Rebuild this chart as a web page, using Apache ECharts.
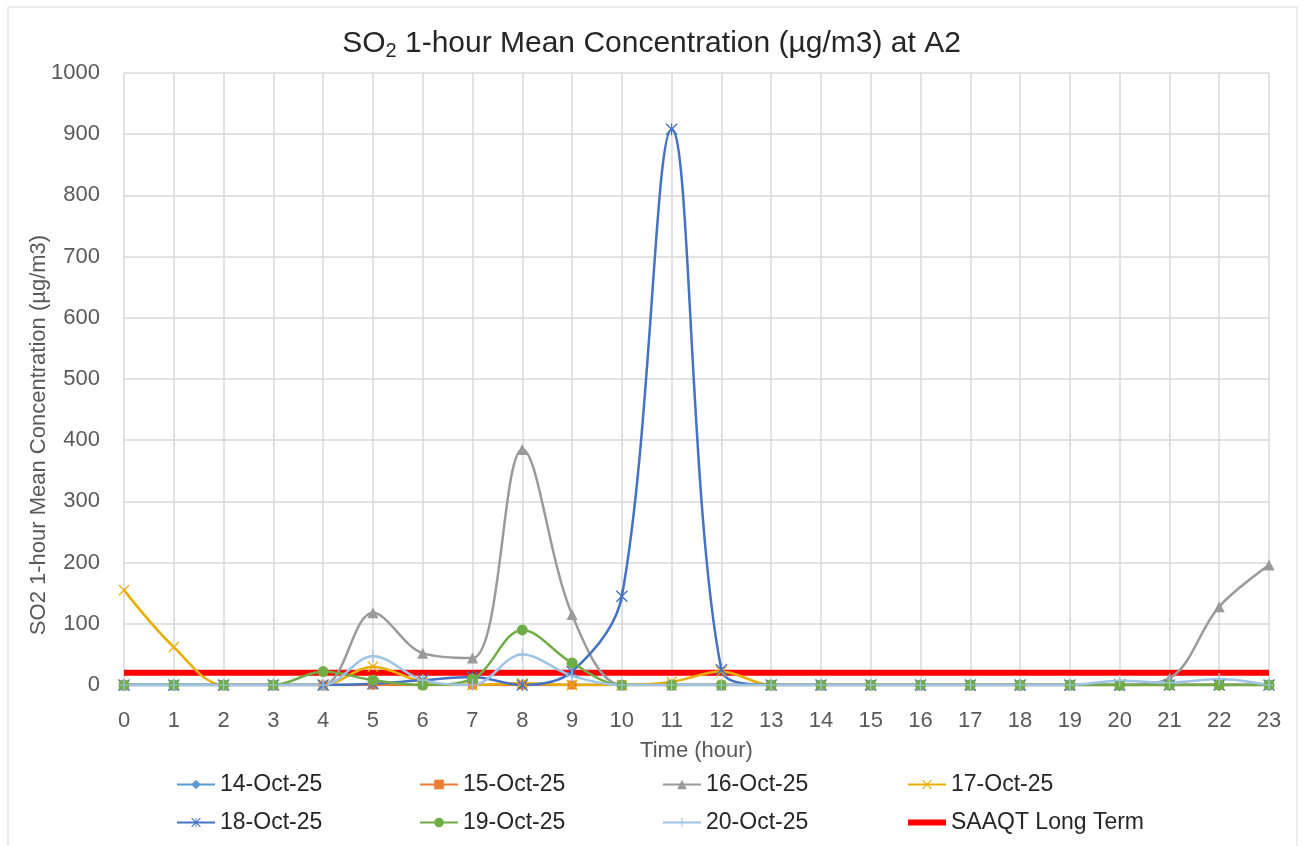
<!DOCTYPE html>
<html>
<head>
<meta charset="utf-8">
<script src="https://cdn.jsdelivr.net/npm/echarts@6/dist/echarts.min.js"></script>
<style>
html,body{margin:0;padding:0;background:#fff;}
#chart{width:1303px;height:846px;}
</style>
</head>
<body>
<div id="chart"></div>
<script>
var hours = ["0","1","2","3","4","5","6","7","8","9","10","11","12","13","14","15","16","17","18","19","20","21","22","23"];
var yTicks = [0,100,200,300,400,500,600,700,800,900,1000];
var oct14 = [0,0,0,0,0,0,0,0,0,0,0,0,0,0,0,0,0,0,0,0,0,0,0,0];
var oct15 = [0,0,0,0,0,0,0,0,0,0,0,0,0,0,0,0,0,0,0,0,0,0,0,0];
var oct16 = [0,0,0,0,0,118,52,44,385,115,0,0,0,0,0,0,0,0,0,0,0,11,128,196];
var oct17 = [155,62,0,0,0,30,5,0,3,0,0,5,22,0,0,0,0,0,0,0,0,0,0,0];
var oct18 = [0,0,0,0,0,2,8,13,0,22,145,908,25,0,0,0,0,0,0,0,0,0,0,0];
var oct19 = [0,0,0,0,22,8,0,10,90,36,0,0,0,0,0,0,0,0,0,0,0,0,0,0];
var oct20 = [0,0,0,0,0,47,8,0,50,15,0,0,0,0,0,0,0,0,0,0,7,4,10,0];
var saaqt = [20,20,20,20,20,20,20,20,20,20,20,20,20,20,20,20,20,20,20,20,20,20,20,20];

var symX = "path://M0,0.8L0.8,0L5,4.2L9.2,0L10,0.8L5.8,5L10,9.2L9.2,10L5,5.8L0.8,10L0,9.2L4.2,5Z";
var symPlus = "path://M4.5,0h1v4.5h4.5v1h-4.5v4.5h-1v-4.5h-4.5v-1h4.5z";
var symStar = "path://M0,0.8L0.8,0L5,4.2L9.2,0L10,0.8L5.8,5L10,9.2L9.2,10L5,5.8L0.8,10L0,9.2L4.2,5Z M4.55,0h0.9v10h-0.9z";
// thick bar for the limit line legend (tiny corner specks keep the 38x12 box)
var barIcon = "path://M0,0L0.01,0L0,0.01Z M0,3h38v6h-38z M38,12L37.99,12L38,11.99Z";

var font = "Liberation Sans";
var txt = "#595959";

function daySeries(name, data, color, symbol, size){
	return {
		name: name,
		type: "line",
		data: data,
		smooth: 0.35,
		symbol: symbol,
		symbolSize: size,
		showAllSymbol: true,
		lineStyle: {color: color, width: 2.5},
		itemStyle: {color: color},
		z: 3
	};
}

function legendCol(left, names){
	return {
		orient: "vertical",
		left: left,
		top: 768,
		itemWidth: 38,
		itemHeight: 12,
		itemGap: 15,
		textStyle: {fontFamily: font, fontSize: 23, color: "#262626", lineHeight: 23},
		data: names
	};
}

var myChart = echarts.init(document.getElementById("chart"));
var option = {
	backgroundColor: "#fff",
	animation: false,
	title: {
		text: "SO{sub|2} 1-hour Mean Concentration (µg/m3) at A2",
		left: "center",
		top: 22,
		textStyle: {
			fontFamily: font, fontSize: 30, fontWeight: "normal", color: "#262626",
			rich: {sub: {fontFamily: font, fontSize: 20, color: "#262626", verticalAlign: "bottom", padding: [14,0,0,0]}}
		}
	},
	graphic: [{
		type: "rect",
		shape: {x: 8, y: 7, width: 1289, height: 860},
		style: {fill: "none", stroke: "#d9d9d9", lineWidth: 1},
		silent: true
	}],
	legend: [
		legendCol(171, ["14-Oct-25","18-Oct-25"]),
		legendCol(414, ["15-Oct-25","19-Oct-25"]),
		legendCol(657, ["16-Oct-25","20-Oct-25"]),
		legendCol(902, ["17-Oct-25",{name: "SAAQT Long Term", icon: barIcon}])
	],
	grid: {left: 124, right: 34, top: 73, bottom: 161, containLabel: false},
	xAxis: {
		type: "category",
		data: hours,
		boundaryGap: false,
		name: "Time (hour)",
		nameLocation: "middle",
		nameGap: 55,
		nameMoveOverlap: false,
		nameTextStyle: {fontFamily: font, fontSize: 22, color: txt},
		axisLine: {lineStyle: {color: "#d9d9d9"}},
		axisTick: {show: false},
		axisLabel: {fontFamily: font, fontSize: 22, color: txt, margin: 25},
		splitLine: {show: true, lineStyle: {color: "#d9d9d9", width: 1.5}}
	},
	yAxis: {
		type: "value",
		min: yTicks[0],
		max: yTicks[yTicks.length - 1],
		interval: 100,
		name: "SO2 1-hour Mean Concentration (µg/m3)",
		nameLocation: "middle",
		nameGap: 74,
		nameMoveOverlap: false,
		nameTextStyle: {fontFamily: font, fontSize: 22, color: txt, padding: [0, 112, 0, 0]},
		axisLine: {show: false},
		axisTick: {show: false},
		axisLabel: {fontFamily: font, fontSize: 22, color: txt, margin: 24, formatter: function(v){ return String(v); }},
		splitLine: {lineStyle: {color: "#d9d9d9", width: 1.5}}
	},
	series: [
		daySeries("14-Oct-25", oct14, "#5B9BD5", "diamond", 9),
		daySeries("15-Oct-25", oct15, "#ED7D31", "rect", 9),
		daySeries("16-Oct-25", oct16, "#9A9A9A", "triangle", 11),
		daySeries("17-Oct-25", oct17, "#E9AD00", symX, 11),
		daySeries("18-Oct-25", oct18, "#4472C4", symStar, 12),
		daySeries("19-Oct-25", oct19, "#70AD47", "circle", 11),
		daySeries("20-Oct-25", oct20, "#9DC3E6", symPlus, 12),
		{
			name: "SAAQT Long Term",
			type: "line",
			data: saaqt,
			symbol: "none",
			lineStyle: {color: "#FF0000", width: 6},
			itemStyle: {color: "#FF0000"},
			z: 2
		}
	]
};
myChart.setOption(option);
</script>
</body>
</html>
